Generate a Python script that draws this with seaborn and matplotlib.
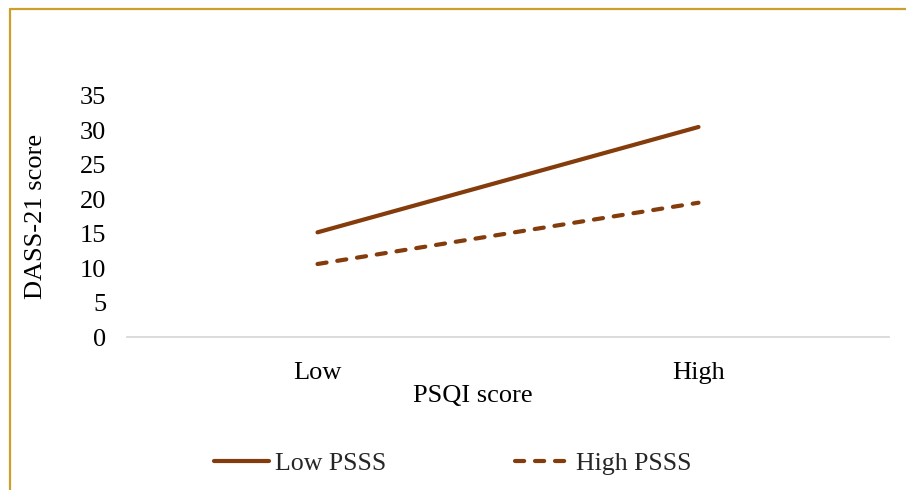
import pandas as pd
import matplotlib.pyplot as plt
import seaborn as sns
from matplotlib.lines import Line2D

# Data
psqi_levels = ["Low", "High"]
low_psss = [15.2, 30.5]
high_psss = [10.6, 19.5]
y_ticks = [0, 5, 10, 15, 20, 25, 30, 35]

sns.set_theme(style="white")
plt.rcParams['font.family'] = ['Liberation Serif', 'DejaVu Serif']

df = pd.DataFrame({
    "PSQI": psqi_levels * 2,
    "DASS": low_psss + high_psss,
    "group": ["Low PSSS"] * 2 + ["High PSSS"] * 2,
})

brown = "#843C0C"
W, H = 906, 490
fig = plt.figure(figsize=(W / 100, H / 100), dpi=100)
ax = fig.add_axes([127 / W, (H - 337) / H, 762 / W, (337 - 96) / H])

sns.lineplot(data=df, x="PSQI", y="DASS", hue="group", style="group",
             palette={"Low PSSS": brown, "High PSSS": brown},
             dashes={"Low PSSS": "", "High PSSS": (2.2, 2.6)},
             linewidth=3, ax=ax, legend=False, sort=False)
for ln in ax.lines:
    ln.set_dash_capstyle("round")
    ln.set_solid_capstyle("round")

ax.set_xlim(-0.5, 1.5)
ax.set_ylim(0, 35)
ax.set_yticks(y_ticks)
ax.tick_params(axis="both", labelsize=19, length=0, colors="black")
ax.tick_params(axis="y", pad=15)
ax.tick_params(axis="x", pad=18)
for s in ["top", "right", "left"]:
    ax.spines[s].set_visible(False)
ax.spines["bottom"].set_color("#D9D9D9")
ax.spines["bottom"].set_linewidth(1.3)
ax.set_xlabel("PSQI score", fontsize=19, color="black")
ax.set_ylabel("DASS-21 score", fontsize=19, color="black")
ax.xaxis.set_label_coords((473 - 127) / 762, -(396 - 337) / 241, transform=ax.transAxes)
ax.xaxis.label.set_va("center")
ax.yaxis.set_label_coords(-(127 - 36) / 762, 0.5, transform=ax.transAxes)
ax.yaxis.label.set_va("center")

handles = [Line2D([0], [0], color=brown, lw=3, solid_capstyle="round"),
           Line2D([0], [0], color=brown, lw=3, linestyle=(0, (2.2, 2.6)),
                  dash_capstyle="round")]
fig.legend(handles, ["Low PSSS", "High PSSS"], loc="center",
           bbox_to_anchor=(453 / W, (H - 463) / H), ncol=2, frameon=False,
           fontsize=18.6, handlelength=2.1, handletextpad=0.25, columnspacing=5.0)

# golden frame (top and left only visible)
gold = "#C9A02A"
fig.add_artist(Line2D([9.5 / W, 1], [1 - 9.5 / H, 1 - 9.5 / H], color=gold, lw=1.6,
                      transform=fig.transFigure))
fig.add_artist(Line2D([9.5 / W, 9.5 / W], [0, 1 - 9.5 / H], color=gold, lw=1.6,
                      transform=fig.transFigure))

fig.savefig("out.png", dpi=100, facecolor="white")
